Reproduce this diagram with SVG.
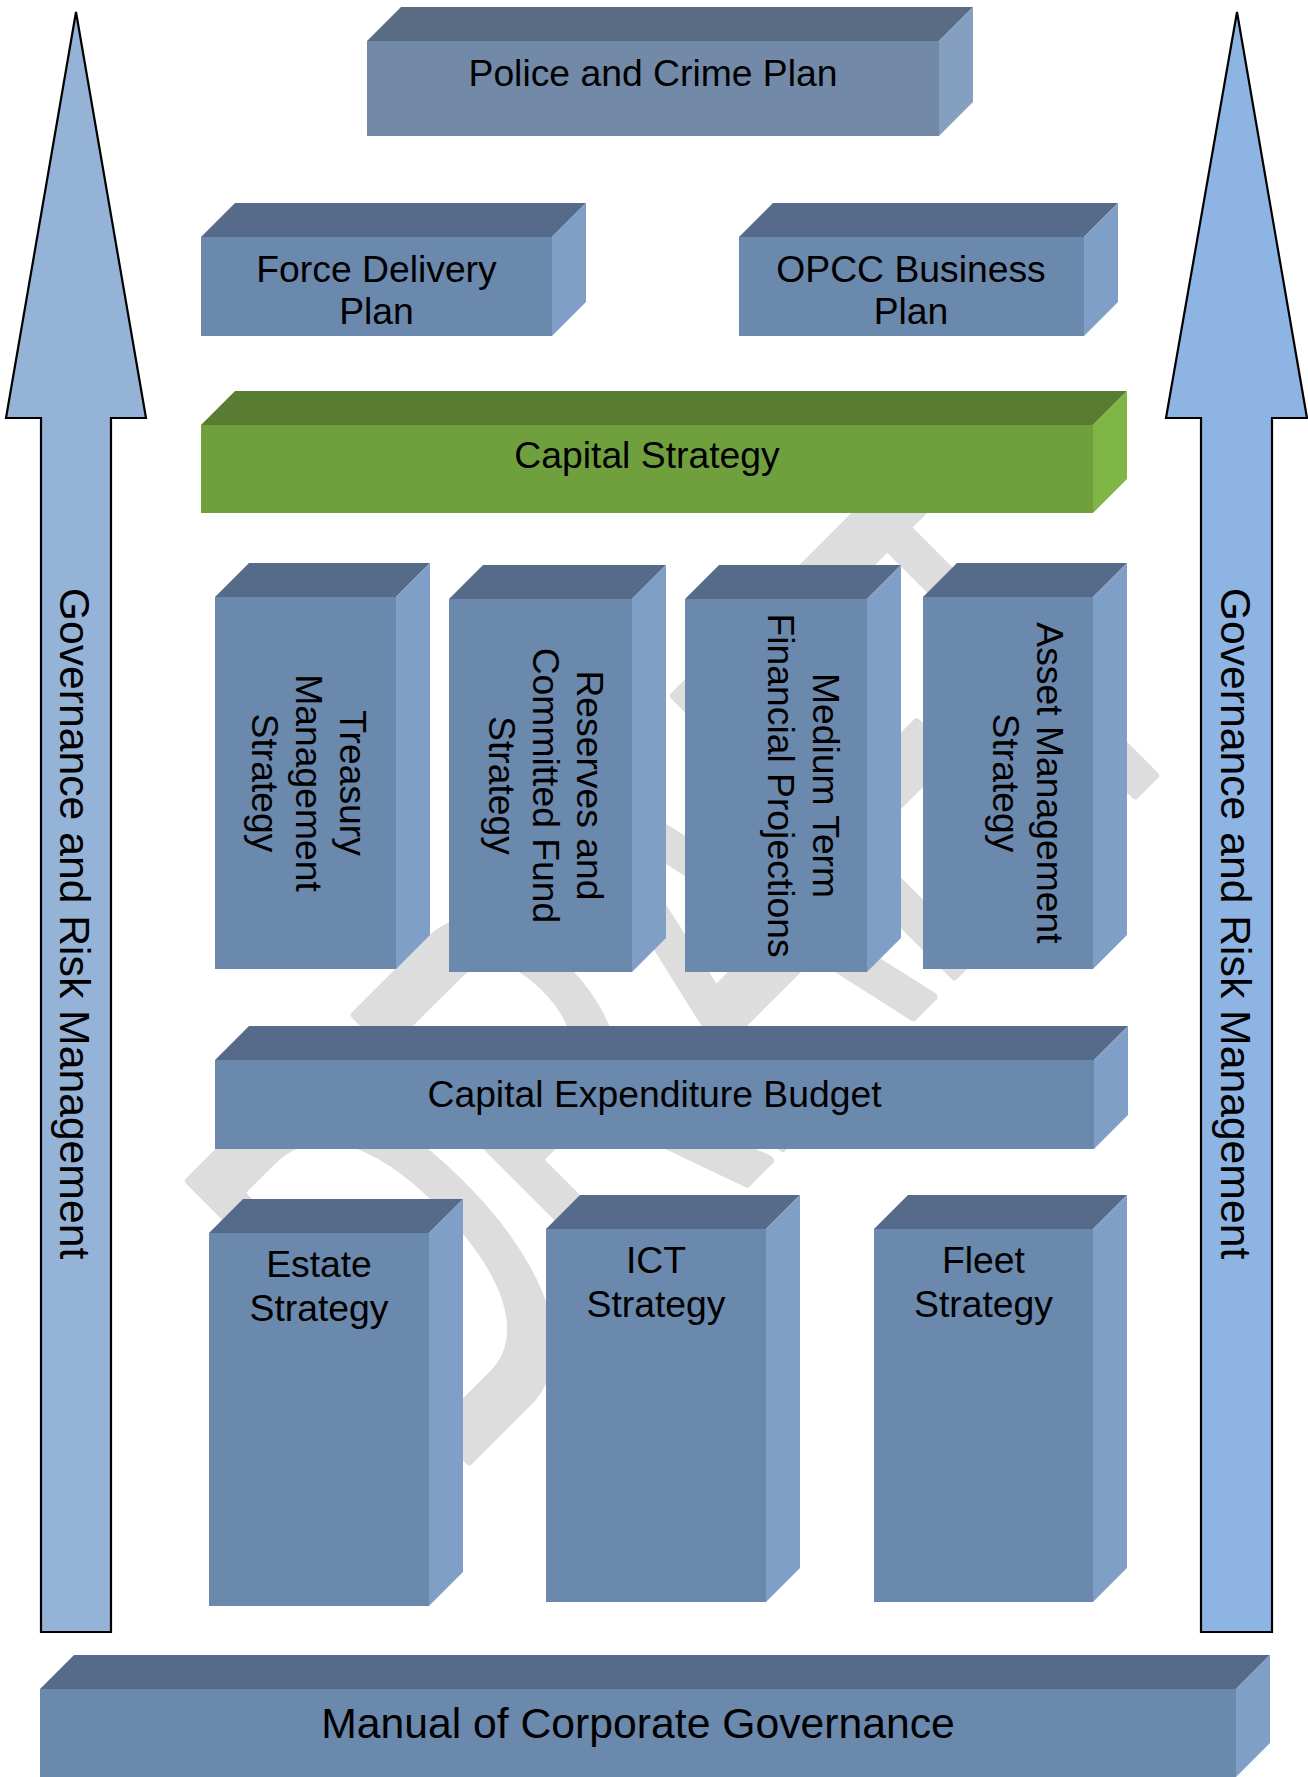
<svg xmlns="http://www.w3.org/2000/svg" width="1308" height="1777" viewBox="0 0 1308 1777">
<style>
.front{fill:#6B88AD}
.top{fill:#566B89}
.side{fill:#7F9FC7}
.pfront{fill:#7289A8}
.ptop{fill:#5A6B84}
.pside{fill:#849FC0}
.gfront{fill:#70A03E}
.gtop{fill:#587D32}
.gside{fill:#7EB545}
.lbl{font-family:"Liberation Sans",Arial,sans-serif;font-size:37.3px;fill:#000;text-anchor:middle}
.big{font-family:"Liberation Sans",Arial,sans-serif;font-size:42.7px;fill:#000;text-anchor:middle}
.arrow{stroke:#000;stroke-width:2.2;stroke-linejoin:miter}
.wm{font-family:"Liberation Sans",Arial,sans-serif;font-size:400px;fill:#DDDDDD;stroke:#DDDDDD;stroke-width:7;stroke-linejoin:round}
</style>
<rect width="1308" height="1777" fill="#FFFFFF"/>
<g id="watermark" transform="translate(467,1462) rotate(-45) scale(1,1.433)">
<text class="wm" x="-25.7" y="0" textLength="1083" lengthAdjust="spacingAndGlyphs">DRAFT</text>
</g>
<g id="connectors"></g>
<g id="governance-left">
<polygon class="arrow" fill="#95B3D7" points="76,12 146,418 111,418 111,1632 41,1632 41,418 6,418"/>
<text class="big" transform="translate(60,923.5) rotate(90)">Governance and Risk Management</text>
</g>
<g id="governance-right">
<polygon class="arrow" fill="#8EB4E3" points="1237,12 1307,418 1272,418 1272,1632 1201,1632 1201,418 1166,418"/>
<text class="big" transform="translate(1221,923.5) rotate(90)">Governance and Risk Management</text>
</g>
<g id="police-crime-plan">
<polygon class="ptop" points="367,41 401,7 973,7 939,41"/>
<polygon class="pside" points="939,41 973,7 973,102 939,136"/>
<rect class="pfront" x="367" y="41" width="572" height="95"/>
<text class="lbl" x="653" y="86">Police and Crime Plan</text>
</g>
<g id="force-delivery-plan">
<polygon class="top" points="201,237 235,203 586,203 552,237"/>
<polygon class="side" points="552,237 586,203 586,302 552,336"/>
<rect class="front" x="201" y="237" width="351" height="99"/>
<text class="lbl" x="376.5" y="282">Force Delivery</text>
<text class="lbl" x="376.5" y="324">Plan</text>
</g>
<g id="opcc-business-plan">
<polygon class="top" points="739,237 773,203 1118,203 1084,237"/>
<polygon class="side" points="1084,237 1118,203 1118,302 1084,336"/>
<rect class="front" x="739" y="237" width="345" height="99"/>
<text class="lbl" x="911" y="282">OPCC Business</text>
<text class="lbl" x="911" y="324">Plan</text>
</g>
<g id="capital-strategy">
<polygon class="gtop" points="201,425 235,391 1127,391 1093,425"/>
<polygon class="gside" points="1093,425 1127,391 1127,479 1093,513"/>
<rect class="gfront" x="201" y="425" width="892" height="88"/>
<text class="lbl" x="647" y="468">Capital Strategy</text>
</g>
<g id="treasury-management-strategy">
<polygon class="top" points="215,597 249,563 430,563 396,597"/>
<polygon class="side" points="396,597 430,563 430,935 396,969"/>
<rect class="front" x="215" y="597" width="181" height="372"/>
<text class="lbl" transform="translate(340,783) rotate(90)">Treasury</text>
<text class="lbl" transform="translate(296,783) rotate(90)">Management</text>
<text class="lbl" transform="translate(252,783) rotate(90)">Strategy</text>
</g>
<g id="reserves-committed-fund-strategy">
<polygon class="top" points="449,599 483,565 666,565 632,599"/>
<polygon class="side" points="632,599 666,565 666,938 632,972"/>
<rect class="front" x="449" y="599" width="183" height="373"/>
<text class="lbl" transform="translate(577,785.5) rotate(90)">Reserves and</text>
<text class="lbl" transform="translate(533,785.5) rotate(90)">Committed Fund</text>
<text class="lbl" transform="translate(489,785.5) rotate(90)">Strategy</text>
</g>
<g id="medium-term-financial-projections">
<polygon class="top" points="685,599 719,565 901,565 867,599"/>
<polygon class="side" points="867,599 901,565 901,938 867,972"/>
<rect class="front" x="685" y="599" width="182" height="373"/>
<text class="lbl" transform="translate(813,785.5) rotate(90)">Medium Term</text>
<text class="lbl" transform="translate(768,785.5) rotate(90)">Financial Projections</text>
</g>
<g id="asset-management-strategy">
<polygon class="top" points="923,597 957,563 1127,563 1093,597"/>
<polygon class="side" points="1093,597 1127,563 1127,935 1093,969"/>
<rect class="front" x="923" y="597" width="170" height="372"/>
<text class="lbl" transform="translate(1037,783) rotate(90)">Asset Management</text>
<text class="lbl" transform="translate(993,783) rotate(90)">Strategy</text>
</g>
<g id="capital-expenditure-budget">
<polygon class="top" points="215,1060 249,1026 1128,1026 1094,1060"/>
<polygon class="side" points="1094,1060 1128,1026 1128,1115 1094,1149"/>
<rect class="front" x="215" y="1060" width="879" height="89"/>
<text class="lbl" x="654.5" y="1107">Capital Expenditure Budget</text>
</g>
<g id="estate-strategy">
<polygon class="top" points="209,1233 243,1199 463,1199 429,1233"/>
<polygon class="side" points="429,1233 463,1199 463,1572 429,1606"/>
<rect class="front" x="209" y="1233" width="220" height="373"/>
<text class="lbl" x="319" y="1277">Estate</text>
<text class="lbl" x="319" y="1321">Strategy</text>
</g>
<g id="ict-strategy">
<polygon class="top" points="546,1229 580,1195 800,1195 766,1229"/>
<polygon class="side" points="766,1229 800,1195 800,1568 766,1602"/>
<rect class="front" x="546" y="1229" width="220" height="373"/>
<text class="lbl" x="656" y="1273">ICT</text>
<text class="lbl" x="656" y="1317">Strategy</text>
</g>
<g id="fleet-strategy">
<polygon class="top" points="874,1229 908,1195 1127,1195 1093,1229"/>
<polygon class="side" points="1093,1229 1127,1195 1127,1568 1093,1602"/>
<rect class="front" x="874" y="1229" width="219" height="373"/>
<text class="lbl" x="983.5" y="1273">Fleet</text>
<text class="lbl" x="983.5" y="1317">Strategy</text>
</g>
<g id="manual-corporate-governance">
<polygon class="top" points="40,1689 74,1655 1270,1655 1236,1689"/>
<polygon class="side" points="1236,1689 1270,1655 1270,1743 1236,1777"/>
<rect class="front" x="40" y="1689" width="1196" height="88"/>
<text class="big" x="638" y="1738">Manual of Corporate Governance</text>
</g>
</svg>
